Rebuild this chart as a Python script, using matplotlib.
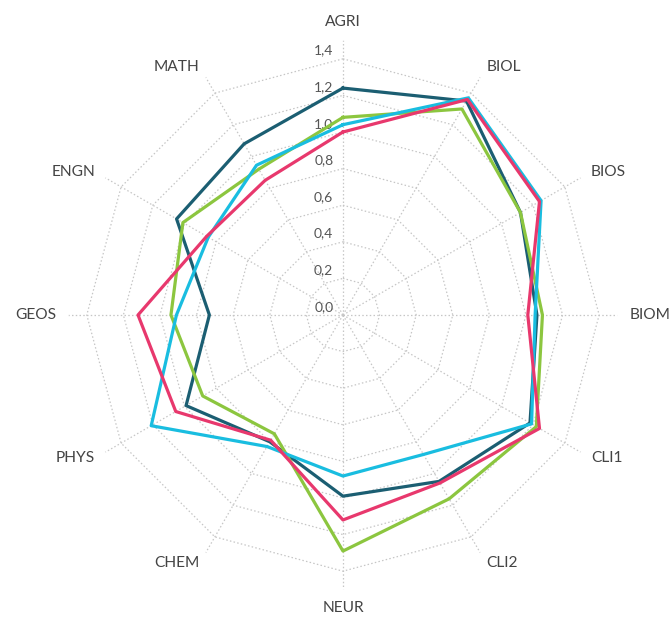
import numpy as np
import matplotlib
matplotlib.use("Agg")
import matplotlib.pyplot as plt
from matplotlib.transforms import ScaledTranslation

categories = ["AGRI", "BIOL", "BIOS", "BIOM", "CLI1", "CLI2",
              "NEUR", "CHEM", "PHYS", "GEOS", "ENGN", "MATH"]

teal = [1.24, 1.35, 1.12, 1.06, 1.18, 1.05, 0.99, 0.80, 0.99, 0.73, 1.05, 1.08]
green = [1.08, 1.30, 1.12, 1.09, 1.22, 1.16, 1.29, 0.75, 0.885, 0.94, 1.01, 0.92]
cyan = [1.04, 1.37, 1.25, 1.05, 1.19, 0.88, 0.88, 0.83, 1.21, 0.91, 0.85, 0.945]
pink = [1.00, 1.36, 1.24, 1.01, 1.24, 1.06, 1.12, 0.79, 1.055, 1.12, 0.86, 0.85]

rings = [0.2, 0.4, 0.6, 0.8, 1.0, 1.2, 1.4]
ring_labels = ["0,0", "0,2", "0,4", "0,6", "0,8", "1,0", "1,2", "1,4"]
rmax = 1.5

plt.rcParams["font.family"] = ["Lato", "DejaVu Sans"]

fig = plt.figure(figsize=(6.70, 6.24), dpi=100)
ax = fig.add_axes([0.1022, 0.0553, 0.8194, 0.8798], projection="polar")
ax.set_theta_offset(np.pi / 2)
ax.set_theta_direction(-1)
ax.set_ylim(0, rmax)
ax.grid(False)
ax.spines["polar"].set_visible(False)
ax.set_xticks([])
ax.set_yticks([])
ax.patch.set_alpha(0)

n = len(categories)
theta = np.arange(n) * 2 * np.pi / n
closed = np.append(theta, theta[0])

grid_kw = dict(color="#c6c6c6", lw=0.9, ls=(0, (1.2, 1.8)), zorder=1)
for r in rings:
    ax.plot(closed, [r] * (n + 1), **grid_kw)
for t in theta:
    ax.plot([t, t], [0, rmax], **grid_kw)

# radial scale on the vertical spoke
off = ScaledTranslation(-7 / 72, 3 / 72, fig.dpi_scale_trans)
for i, lab in enumerate(ring_labels):
    ax.text(0, i * 0.2, lab, transform=ax.transData + off,
            ha="right", va="baseline", fontsize=10, color="#555555", zorder=2)

# category labels around the outside
for t, lab in zip(theta, categories):
    s, c = np.sin(t), np.cos(t)
    if abs(s) < 0.1:
        ha = "center"
        va = "bottom" if c > 0 else "top"
    else:
        ha = "left" if s > 0 else "right"
        va = "center"
    ax.text(t, 1.565, lab, ha=ha, va=va, fontsize=11.2, color="#444444")

series = [(teal, "#1b5e72"), (green, "#8cc63f"), (cyan, "#19bde0"), (pink, "#e8386d")]
for vals, col in series:
    ax.plot(closed, np.append(vals, vals[0]), color=col, lw=2.3, zorder=3)

fig.savefig("out.png", dpi=100)
